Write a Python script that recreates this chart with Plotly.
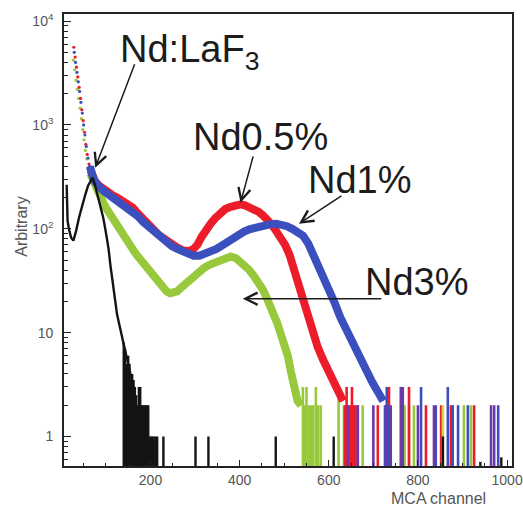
import math
import plotly.graph_objects as go

# ---------------- data ----------------
black_ch = [12, 14, 17, 22, 27, 33, 40, 47, 54, 60, 66, 70, 75, 82, 88, 94, 100, 106, 110, 115, 120, 125, 130, 135, 140, 145, 150, 155, 160, 165]
black_val = [265, 120, 100, 82, 77, 95, 130, 170, 215, 260, 295, 310, 270, 205, 160, 128, 92, 64, 45, 31, 21, 15, 12, 9.5, 7.5, 6, 5, 4, 3.2, 2.5]
black_sp_ch = [140, 143, 146, 150, 153, 156, 159, 162, 165, 168, 171, 174, 177, 180, 183, 186, 189, 192, 195, 198, 201, 204, 207, 211, 215, 229, 301, 330, 481, 611, 856, 940, 987]
black_sp_val = [8, 7, 5, 6, 5, 3.5, 4, 3.5, 3, 2.5, 2, 3, 3, 2, 2, 2, 2, 2, 2, 1, 1, 1, 1, 1, 1, 1, 1, 1, 1, 1, 1, 0.57, 0.63]

red_ch = [28, 31, 34, 37, 40, 43, 46, 49, 52, 55, 58, 62, 66, 70, 76, 85, 94, 105, 115, 125, 135, 148, 160, 172, 184, 196, 210, 222, 235, 248, 260, 272, 285, 295, 305, 315, 325, 335, 345, 357, 368, 380, 392, 402, 412, 422, 432, 442, 452, 462, 472, 482, 492, 502, 512, 522, 532, 542, 553, 564, 575, 587, 598, 610, 620, 632]
red_val = [5600, 4500, 3600, 2900, 2300, 1800, 1400, 1100, 850, 650, 520, 420, 360, 320, 285, 260, 240, 225, 210, 200, 190, 178, 160, 140, 122, 108, 95, 85, 77, 70, 66, 62, 61, 63, 70, 84, 100, 112, 126, 145, 155, 163, 170, 172, 168, 162, 155, 146, 135, 123, 110, 95, 82, 70, 56, 40, 27, 20, 14, 10, 7.3, 5.5, 4.5, 3.5, 2.8, 2.2]
red_sp_ch = [636, 640, 644, 648, 652, 656, 660, 665, 710, 735, 780, 818, 852, 874, 926]
red_sp_val = [2, 3, 2, 2, 3, 2, 2, 2, 2, 3, 3, 2, 2, 2, 2]

blue_ch = [29, 32, 35, 38, 41, 44, 47, 50, 53, 56, 60, 64, 68, 72, 78, 86, 94, 105, 115, 125, 136, 148, 160, 172, 184, 196, 210, 222, 235, 248, 260, 272, 285, 297, 310, 322, 335, 348, 360, 372, 385, 398, 410, 422, 434, 446, 458, 470, 482, 494, 506, 518, 530, 542, 554, 566, 578, 590, 602, 614, 626, 638, 650, 662, 674, 686, 698, 710, 722]
blue_val = [5000, 4000, 3200, 2600, 2100, 1650, 1300, 1000, 800, 620, 480, 400, 340, 305, 275, 250, 232, 215, 200, 190, 178, 165, 150, 132, 116, 104, 92, 82, 74, 68, 64, 60, 57, 55, 55, 57, 60, 64, 69, 75, 82, 88, 94, 99, 103, 106, 109, 111, 112, 110, 106, 100, 94, 86, 72, 56, 44, 34, 26, 19, 14, 11, 8.5, 6.5, 5, 4, 3.3, 2.7, 2.2]
blue_sp_ch = [726, 730, 734, 762, 807, 840, 867, 878, 890, 912, 980]
blue_sp_val = [2, 3, 2, 3, 3, 2, 3, 2, 2, 2, 2]

green_ch = [27, 30, 33, 36, 39, 42, 45, 48, 51, 54, 57, 61, 65, 70, 76, 82, 88, 94, 100, 106, 112, 118, 125, 132, 140, 148, 156, 164, 172, 180, 188, 196, 204, 212, 220, 228, 236, 244, 252, 260, 268, 276, 286, 296, 308, 320, 332, 344, 356, 368, 380, 392, 402, 412, 422, 432, 442, 452, 460, 468, 476, 484, 492, 500, 508, 515, 522, 530, 538]
green_val = [4200, 3400, 2700, 2200, 1800, 1450, 1150, 900, 720, 570, 470, 390, 340, 300, 255, 225, 200, 178, 160, 145, 132, 120, 105, 93, 83, 76, 68, 60, 54, 49, 44, 40, 36, 33, 29, 27, 25, 24, 24, 25, 27, 29, 32, 35, 39, 42, 45, 47, 49, 52, 54, 52, 48, 44, 40, 35, 31, 26, 22, 19, 15, 12.5, 10, 8, 6, 4.2, 3, 2.2, 2]
green_sp_ch = [542, 546, 550, 555, 560, 565, 571, 576, 582, 622, 634, 676, 770, 780, 791, 903, 919]
green_sp_val = [3, 2, 3, 2, 2, 2, 3, 2, 2, 3, 2, 2, 2, 2, 2, 2, 2]

purple_sp_ch = [643, 665, 700, 728, 739, 762, 766, 800, 836, 964, 971]
purple_sp_val = [2, 2, 2, 2, 2, 3, 3, 2, 2, 2, 2]
yellow_sp_ch = [856]
yellow_sp_val = [2]

x_tick_vals = [200, 400, 600, 800, 1000]
x_tick_text = ["200", "400", "600", "800", "1000"]
y_tick_vals = [1, 10, 100, 1000, 10000]
y_tick_text = ["1", "10", "10<sup>2</sup>", "10<sup>3</sup>", "10<sup>4</sup>"]

labels = ["Nd:LaF<sub>3</sub>", "Nd0.5%", "Nd1%", "Nd3%"]

# ---------------- styling ----------------
C_BLACK = "#141414"
C_RED = "#ec1c2a"
C_BLUE = "#3c4fbe"
C_GREEN = "#98c93c"
C_PURPLE = "#6a3aa8"
C_YELLOW = "#d8d23a"
FLOOR = 0.3   # zero-count bins drawn below the visible axis range
DOT_LIMIT = 68

fig = go.Figure()


def add_series(ch, val, color, width=8, dots=True):
    if dots:
        dx = [c for c in ch if c < DOT_LIMIT]
        dy = [v for c, v in zip(ch, val) if c < DOT_LIMIT]
        fig.add_trace(go.Scatter(x=dx, y=dy, mode="markers",
                                 marker=dict(color=color, size=3.2), hoverinfo="skip"))
        lx = [c for c in ch if c >= DOT_LIMIT - 4]
        ly = [v for c, v in zip(ch, val) if c >= DOT_LIMIT - 4]
    else:
        lx, ly = ch, val
    fig.add_trace(go.Scatter(x=lx, y=ly, mode="lines",
                             line=dict(color=color, width=width), hoverinfo="skip"))


def add_spikes(ch, val, color, width=2.6):
    xs, ys = [], []
    for c, v in zip(ch, val):
        xs += [c, c, None]
        ys += [FLOOR, v, None]
    fig.add_trace(go.Scatter(x=xs, y=ys, mode="lines",
                             line=dict(color=color, width=width), hoverinfo="skip"))


add_series(green_ch, green_val, C_GREEN)
add_spikes(green_sp_ch, green_sp_val, C_GREEN)
add_series(red_ch, red_val, C_RED)
add_spikes(red_sp_ch, red_sp_val, C_RED)
add_series(blue_ch, blue_val, C_BLUE)
add_spikes(blue_sp_ch, blue_sp_val, C_BLUE)
add_spikes(purple_sp_ch, purple_sp_val, C_PURPLE)
add_spikes(yellow_sp_ch, yellow_sp_val, C_YELLOW)
add_series(black_ch, black_val, C_BLACK, width=2.4, dots=False)
add_spikes(black_sp_ch, black_sp_val, C_BLACK, width=2.4)

minor_y = [d * 10 ** k for k in range(-1, 4) for d in range(2, 10)]

fig.update_layout(
    width=523, height=507,
    margin=dict(l=64, r=11, t=14, b=41),
    paper_bgcolor="white", plot_bgcolor="white",
    showlegend=False,
    font=dict(family="Liberation Sans, Arial, sans-serif", color="#555555", size=14),
)
fig.update_xaxes(
    range=[6, 1011], tickvals=x_tick_vals, ticktext=x_tick_text, automargin=False,
    ticks="inside", ticklen=6, tickwidth=1.2, tickcolor="#222",
    minor=dict(dtick=50, ticks="inside", ticklen=3, tickcolor="#222", showgrid=False),
    showline=True, linecolor="#222", linewidth=1.6, mirror=True,
    showgrid=False, zeroline=False, tickfont=dict(size=14, color="#555"),
)
fig.update_yaxes(
    type="log", range=[math.log10(0.52), math.log10(11700)], automargin=False,
    tickvals=y_tick_vals, ticktext=y_tick_text,
    ticks="inside", ticklen=7, tickwidth=1.2, tickcolor="#222",
    minor=dict(tickvals=minor_y, ticks="inside", ticklen=4, tickcolor="#222", showgrid=False),
    showline=True, linecolor="#222", linewidth=1.6, mirror=True,
    showgrid=False, zeroline=False, tickfont=dict(size=14, color="#555"),
    ticklabelstandoff=6,
)

TXT = dict(family="Liberation Sans, Arial, sans-serif", size=38, color="#1c1c1c")
label_pos = [(288, 3.70), (447, 2.885), (670, 2.47), (798, 1.49)]
for lab, (lx, ly) in zip(labels, label_pos):
    fig.add_annotation(x=lx, y=ly, xref="x", yref="y", text=lab, showarrow=False,
                       font=TXT, xanchor="center", yanchor="middle")

arrows = [(76, 2.587, 40, -105), (402, 2.25, 13, -48), (533, 2.048, 44, -29), (407, 1.327, 140, 0)]
for tx, ty, ax, ay in arrows:
    fig.add_annotation(x=tx, y=ty, xref="x", yref="y", text="", showarrow=True,
                       ax=ax, ay=ay, arrowhead=5, arrowsize=1.6, arrowwidth=1.5,
                       arrowcolor="#1c1c1c", standoff=0)

fig.add_annotation(x=0.837, y=-0.072, xref="paper", yref="paper", text="MCA channel",
                   showarrow=False, font=dict(size=16, color="#555"),
                   xanchor="center", yanchor="middle")
fig.add_annotation(x=-0.094, y=0.529, xref="paper", yref="paper", text="Arbitrary",
                   showarrow=False, textangle=-90, font=dict(size=16, color="#555"),
                   xanchor="center", yanchor="middle")

fig.write_html("out.html", config={"displayModeBar": False},
               post_script="document.body.style.margin='0px';")
